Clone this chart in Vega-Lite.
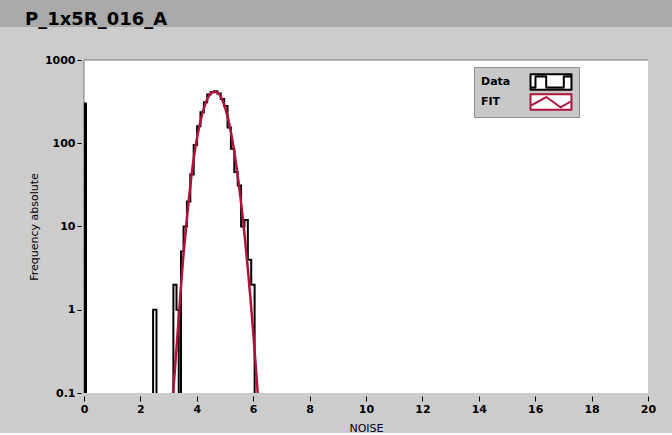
{
  "$schema": "https://vega.github.io/schema/vega-lite/v6.json",
  "background": "#cccccc",
  "padding": {"left": 0, "top": 0, "right": 0, "bottom": 0},
  "config": {"view": {"stroke": null}, "font": "DejaVu Sans"},
  "datasets": {
    "hist": [
      {"noise": 0, "count": 0.01},
      {"noise": 0.03, "count": 300},
      {"noise": 0.07, "count": 0.01},
      {"noise": 2.45, "count": 1},
      {"noise": 2.57, "count": 0.01},
      {"noise": 3.17, "count": 2},
      {"noise": 3.28, "count": 1},
      {"noise": 3.36, "count": 0.01},
      {"noise": 3.44, "count": 5},
      {"noise": 3.53, "count": 10},
      {"noise": 3.65, "count": 20},
      {"noise": 3.77, "count": 42},
      {"noise": 3.89, "count": 95},
      {"noise": 4.01, "count": 160},
      {"noise": 4.13, "count": 235},
      {"noise": 4.25, "count": 310},
      {"noise": 4.37, "count": 385},
      {"noise": 4.49, "count": 410},
      {"noise": 4.61, "count": 420},
      {"noise": 4.73, "count": 395},
      {"noise": 4.85, "count": 340},
      {"noise": 4.97, "count": 280},
      {"noise": 5.09, "count": 155},
      {"noise": 5.21, "count": 86},
      {"noise": 5.33, "count": 45},
      {"noise": 5.45, "count": 31},
      {"noise": 5.57, "count": 10},
      {"noise": 5.69, "count": 12},
      {"noise": 5.81, "count": 4},
      {"noise": 5.93, "count": 2},
      {"noise": 6.05, "count": 0.01},
      {"noise": 20, "count": 0.01}
    ],
    "fit": [
      {"noise": 3.12, "count": 0.064},
      {"noise": 3.16, "count": 0.1},
      {"noise": 3.2, "count": 0.15},
      {"noise": 3.3, "count": 0.42},
      {"noise": 3.4, "count": 1.26},
      {"noise": 3.5, "count": 3.55},
      {"noise": 3.6, "count": 8.3},
      {"noise": 3.7, "count": 18.6},
      {"noise": 3.8, "count": 38},
      {"noise": 3.9, "count": 69},
      {"noise": 4.0, "count": 112},
      {"noise": 4.1, "count": 166},
      {"noise": 4.2, "count": 229},
      {"noise": 4.3, "count": 295},
      {"noise": 4.4, "count": 355},
      {"noise": 4.5, "count": 398},
      {"noise": 4.6, "count": 414},
      {"noise": 4.7, "count": 412},
      {"noise": 4.8, "count": 386},
      {"noise": 4.9, "count": 335},
      {"noise": 5.0, "count": 270},
      {"noise": 5.1, "count": 203},
      {"noise": 5.2, "count": 141},
      {"noise": 5.3, "count": 91},
      {"noise": 5.4, "count": 54.7},
      {"noise": 5.5, "count": 30.4},
      {"noise": 5.6, "count": 15.7},
      {"noise": 5.7, "count": 7.56},
      {"noise": 5.8, "count": 3.37},
      {"noise": 5.9, "count": 1.4},
      {"noise": 6.0, "count": 0.54},
      {"noise": 6.1, "count": 0.19},
      {"noise": 6.16, "count": 0.1},
      {"noise": 6.2, "count": 0.064}
    ]
  },
  "spacing": 25,
  "resolve": {"scale": {"color": "independent"}},
  "vconcat": [
    {
      "width": 672,
      "height": 27,
      "view": {"fill": "#aaaaaa", "stroke": null},
      "title": {
        "text": "P_1x5R_016_A",
        "anchor": "start",
        "frame": "group",
        "offset": -43,
        "dx": 25,
        "baseline": "alphabetic",
        "font": "DejaVu Sans",
        "fontSize": 18,
        "fontWeight": "bold",
        "color": "#000000"
      },
      "data": {"values": []},
      "mark": "rect"
    },
    {
      "spacing": 0,
      "resolve": {"scale": {"color": "independent"}},
      "hconcat": [
        {"width": 28, "height": 333, "data": {"values": []}, "mark": "rect"},
        {
          "width": 564,
          "height": 333,
          "view": {"fill": "#ffffff", "stroke": null},
          "layer": [
            {
              "data": {"values": [{}]},
              "mark": {"type": "rule", "color": "#777777", "strokeWidth": 1},
              "encoding": {
                "x": {"datum": 0, "type": "quantitative", "scale": {"domain": [0, 20], "nice": false}}
              }
            },
            {
              "data": {"values": [{}]},
              "mark": {"type": "rule", "color": "#777777", "strokeWidth": 1},
              "encoding": {
                "y": {"datum": 1000, "type": "quantitative", "scale": {"type": "log", "domain": [0.1, 1000], "nice": false}}
              }
            },
            {
              "data": {"name": "hist"},
              "mark": {"type": "line", "interpolate": "step-after", "strokeWidth": 2, "clip": true},
              "encoding": {
                "x": {
                  "field": "noise",
                  "type": "quantitative",
                  "scale": {"domain": [0, 20], "nice": false},
                  "axis": {
                    "title": "NOISE",
                    "values": [0, 2, 4, 6, 8, 10, 12, 14, 16, 18, 20],
                    "format": "d",
                    "domain": false,
                    "grid": false,
                    "offset": 3,
                    "tickSize": 5,
                    "tickColor": "#000000",
                    "labelPadding": 2,
                    "labelFont": "DejaVu Sans",
                    "labelFontSize": 11,
                    "labelFontWeight": "bold",
                    "labelColor": "#000000",
                    "labelFlush": false,
                    "labelOverlap": false,
                    "titleFont": "DejaVu Sans",
                    "titleFontSize": 11,
                    "titleFontWeight": "normal",
                    "titleColor": "#000000",
                    "titlePadding": 8
                  }
                },
                "y": {
                  "field": "count",
                  "type": "quantitative",
                  "scale": {"type": "log", "domain": [0.1, 1000], "nice": false},
                  "axis": {
                    "title": "Frequency absolute",
                    "values": [0.1, 1, 10, 100, 1000],
                    "format": "~g",
                    "domain": false,
                    "grid": false,
                    "offset": 3,
                    "tickSize": 4,
                    "tickColor": "#000000",
                    "labelPadding": 2,
                    "labelFont": "DejaVu Sans",
                    "labelFontSize": 11,
                    "labelFontWeight": "bold",
                    "labelColor": "#000000",
                    "labelFlush": false,
                    "labelOverlap": false,
                    "titleFont": "DejaVu Sans",
                    "titleFontSize": 11,
                    "titleFontWeight": "normal",
                    "titleColor": "#000000",
                    "titlePadding": 5
                  }
                },
                "color": {
                  "datum": "Data",
                  "scale": {"domain": ["Data", "FIT"], "range": ["#000000", "#b0123c"]},
                  "legend": {
                    "orient": "none",
                    "legendX": 390,
                    "legendY": 7,
                    "title": null,
                    "padding": 6,
                    "fillColor": "#c8c8c8",
                    "strokeColor": "#8c8c8c",
                    "symbolSize": 256,
                    "symbolStrokeWidth": 2,
                    "symbolOffset": 62,
                    "labelOffset": -79,
                    "rowPadding": 2,
                    "labelFont": "DejaVu Sans",
                    "labelFontSize": 11,
                    "labelFontWeight": "bold",
                    "labelColor": "#000000",
                    "encode": {
                      "symbols": {
                        "update": {
                          "shape": {"signal": "datum.value === 'Data' ? 'M-2.56,-0.97H2.56V0.97H-2.56Z M-2.44,0.68H-1.94V-0.68H-0.6V0.68H1.6V-0.68H2.43H1.6V0.68H-0.6V-0.68H-1.94V0.68H-2.44Z' : 'M-2.56,-0.97H2.56V0.97H-2.56Z M-2.35,0.35L-0.6,-0.62L1.19,0.66L2.35,0L1.19,0.66L-0.6,-0.62Z'"},
                          "stroke": {"signal": "datum.value === 'Data' ? '#000000' : '#b0123c'"},
                          "fill": {"value": "#ffffff"},
                          "strokeWidth": {"value": 2},
                          "strokeJoin": {"value": "round"}
                        }
                      }
                    }
                  }
                }
              }
            },
            {
              "data": {"name": "fit"},
              "mark": {"type": "line", "interpolate": "monotone", "strokeWidth": 2.5, "clip": true},
              "encoding": {
                "x": {"field": "noise", "type": "quantitative"},
                "y": {"field": "count", "type": "quantitative"},
                "color": {"datum": "FIT"}
              }
            }
          ]
        }
      ]
    }
  ]
}
